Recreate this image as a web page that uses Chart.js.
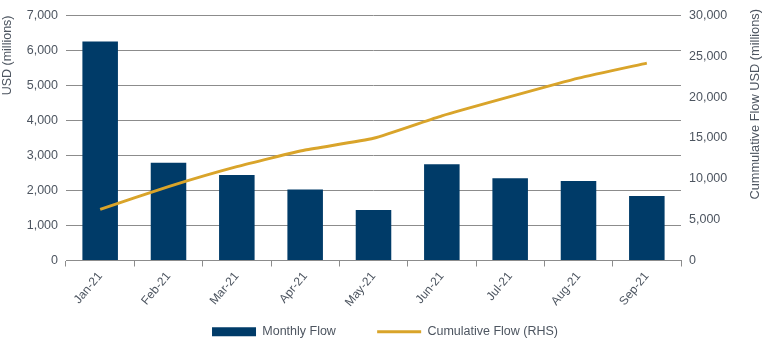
<!DOCTYPE html>
<html>
<head>
<meta charset="utf-8">
<script src="https://cdn.jsdelivr.net/npm/chart.js@4"></script>
<style>
  html, body { margin: 0; padding: 0; background: #fff; }
  #wrap { width: 770px; height: 348px; }
</style>
</head>
<body>
<div id="wrap"><canvas id="flowChart" width="770" height="348"></canvas></div>
<script>
  const months = ['Jan-21', 'Feb-21', 'Mar-21', 'Apr-21', 'May-21', 'Jun-21', 'Jul-21', 'Aug-21', 'Sep-21'];
  const monthlyFlow = [6260, 2790, 2440, 2030, 1440, 2750, 2350, 2270, 1840];
  const cumulativeFlow = [6260, 9050, 11490, 13520, 14960, 17710, 20060, 22330, 24170];

  const tickColor = '#4d5560';
  const gridColor = '#8c8c8c';
  const fontFamily = '"Liberation Sans", Arial, sans-serif';

  // right axis title reads bottom-to-top, so draw it by hand
  const rightTitle = {
    id: 'rightTitle',
    afterDraw(chart) {
      const c = chart.ctx;
      c.save();
      c.translate(755, 9);
      c.rotate(-Math.PI / 2);
      c.font = '12.8px ' + fontFamily;
      c.fillStyle = tickColor;
      c.textAlign = 'right';
      c.textBaseline = 'middle';
      c.fillText('Cummulative Flow USD (millions)', 0, 0);
      c.restore();
    }
  };

  const ctx = document.getElementById('flowChart').getContext('2d');

  const flowChart = new Chart(ctx, {
    data: {
      labels: months,
      datasets: [{
        type: 'line',
        label: 'Cumulative Flow (RHS)',
        data: cumulativeFlow,
        yAxisID: 'y1',
        borderColor: '#D9A42A',
        backgroundColor: '#D9A42A',
        borderWidth: 3,
        tension: 0.15,
        pointRadius: 0,
        pointStyle: 'line',
        order: 0
      }, {
        type: 'bar',
        label: 'Monthly Flow',
        data: monthlyFlow,
        yAxisID: 'y',
        backgroundColor: '#003B68',
        borderColor: '#003B68',
        borderWidth: 0,
        pointStyle: 'rect',
        barPercentage: 0.52,
        categoryPercentage: 1,
        order: 1
      }]
    },
    options: {
      responsive: false,
      animation: false,
      layout: { padding: { top: 8, right: 0, left: 0, bottom: 0 } },
      plugins: {
        legend: {
          position: 'bottom',
          reverse: true,
          labels: {
            usePointStyle: true,
            pointStyleWidth: 44,
            boxHeight: 9,
            padding: 10,
            color: tickColor,
            font: { family: fontFamily, size: 12.5 },
            generateLabels: (chart) => {
              const items = Chart.defaults.plugins.legend.labels.generateLabels(chart);
              // extra gap after the first entry, like the original
              items.forEach((it) => { if (it.datasetIndex === 1) it.text = it.text + '         '; });
              return items;
            }
          }
        },
        tooltip: { enabled: false }
      },
      scales: {
        x: {
          offset: true,
          grid: {
            offset: true,
            drawOnChartArea: false,
            tickLength: 6,
            color: gridColor
          },
          border: { display: true, color: gridColor },
          ticks: {
            minRotation: 50,
            maxRotation: 50,
            color: tickColor,
            font: { family: fontFamily, size: 12 }
          },
          afterFit: (scale) => { scale.height = 55; }
        },
        y: {
          position: 'left',
          min: 0,
          max: 7000,
          ticks: {
            stepSize: 1000,
            padding: 8,
            color: tickColor,
            font: { family: fontFamily, size: 12.5 },
            callback: (value) => value.toLocaleString('en-US')
          },
          grid: { color: gridColor, drawTicks: false },
          border: { display: false },
          title: {
            display: true,
            align: 'end',
            text: 'USD (millions)',
            color: tickColor,
            font: { family: fontFamily, size: 12.5 },
            padding: { top: 0, bottom: 0 }
          },
          afterFit: (scale) => { scale.width = 66; }
        },
        y1: {
          position: 'right',
          min: 0,
          max: 30000,
          ticks: {
            stepSize: 5000,
            padding: 8,
            color: tickColor,
            font: { family: fontFamily, size: 12.5 },
            callback: (value) => value.toLocaleString('en-US')
          },
          grid: { drawOnChartArea: false, drawTicks: false },
          border: { display: false },
          afterFit: (scale) => { scale.width = 89; }
        }
      }
    },
    plugins: [rightTitle]
  });
</script>
</body>
</html>
